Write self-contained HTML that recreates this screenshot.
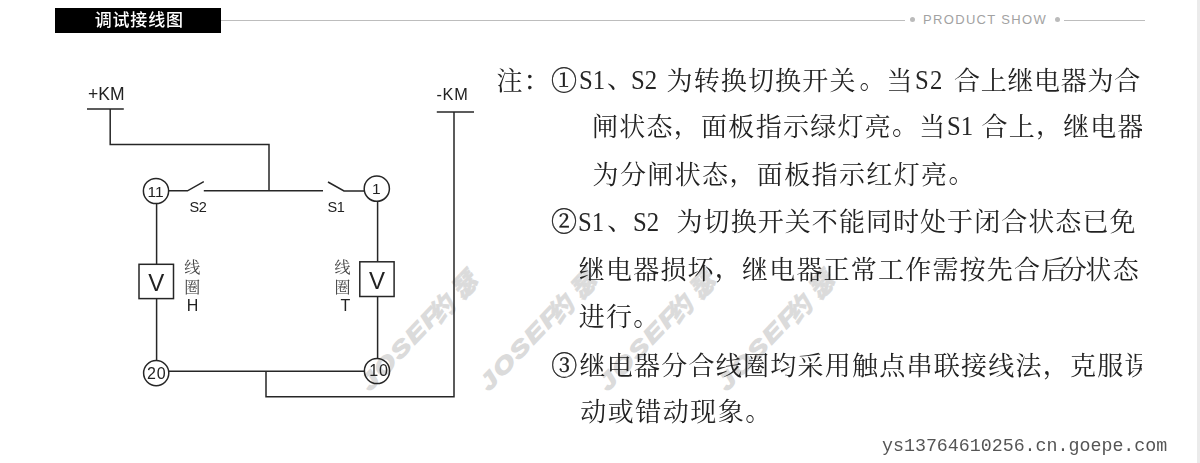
<!DOCTYPE html>
<html lang="zh-CN">
<head>
<meta charset="utf-8">
<title>调试接线图</title>
<style>
html,body{margin:0;padding:0;background:#fff;}
body{width:1200px;height:463px;position:relative;overflow:hidden;font-family:"Liberation Sans","Noto Sans CJK SC",sans-serif;}
#edge{position:absolute;left:1197px;top:0;width:3px;height:463px;background:#ebebeb;}
#hline{position:absolute;left:221px;top:20px;width:684px;height:1px;background:#bdbdbd;}
#hline2{position:absolute;left:1064px;top:20px;width:81px;height:1px;background:#bdbdbd;}
.dot{position:absolute;top:17.3px;width:5px;height:5px;border-radius:50%;background:#bbb;}
#title{position:absolute;left:55px;top:8px;width:166px;height:25px;background:#000;color:#fff;font-weight:500;font-size:17px;line-height:26px;letter-spacing:0.8px;text-indent:2.5px;text-align:center;will-change:transform;}
#ps{position:absolute;left:923px;top:12px;font-size:13px;line-height:16px;color:#a2a2a2;letter-spacing:1.33px;white-space:nowrap;}
#txt{position:absolute;left:0;top:0;width:1141.5px;height:463px;overflow:hidden;will-change:transform;}
.ln{position:absolute;white-space:nowrap;font-family:"Liberation Serif","Noto Serif CJK SC",serif;font-size:26px;line-height:30px;height:30px;letter-spacing:0;color:#222;font-weight:400;}
.la{display:inline-block;font-size:27.8px;letter-spacing:0;line-height:30px;white-space:pre;vertical-align:baseline;}
.la i{display:inline-block;font-style:normal;transform:scaleX(.89);transform-origin:0 50%;position:relative;top:-0.3px;color:#262626;}
.cn{-webkit-text-stroke:0.35px #222;}
.dn{position:relative;top:-1.5px;}
.wm{position:absolute;width:160px;height:24px;transform-origin:0 50%;transform:rotate(-46.5deg);color:#dbdbdb;font-weight:bold;font-style:italic;white-space:nowrap;}
.wm span{position:absolute;top:0;line-height:24px;height:24px;}
.wm .wl{left:0;font-size:22px;letter-spacing:1.85px;transform-origin:0 50%;transform:scaleX(1.3);-webkit-text-stroke:1.3px #dbdbdb;}
.wm .wc{font-size:25px;font-family:"Noto Sans CJK SC",sans-serif;font-weight:900;-webkit-text-stroke:0.5px #dbdbdb;}
#url{position:absolute;left:882px;top:436px;font-family:"Liberation Mono",monospace;font-size:18.3px;line-height:20px;color:#555;white-space:nowrap;}
svg{position:absolute;left:0;top:0;will-change:transform;}
svg text{font-family:"Liberation Sans","Noto Sans CJK SC",sans-serif;fill:#222;}
svg .sf text{font-family:"Liberation Serif","Noto Serif CJK SC",serif;fill:#444;}
</style>
</head>
<body>
<div id="edge"></div>
<div id="hline"></div><div id="hline2"></div>
<div class="dot" style="left:910px"></div><div class="dot" style="left:1055px"></div>
<div id="title">调试接线图</div>
<div id="ps">PRODUCT SHOW</div>

<div class="wm" style="left:364.5px;top:375.4px"><span class="wl">JOSEF</span><span class="wc" style="left:97px">约</span><span class="wc" style="left:129.5px">瑟</span></div>
<div class="wm" style="left:483.7px;top:375.4px"><span class="wl">JOSEF</span><span class="wc" style="left:97px">约</span><span class="wc" style="left:129.5px">瑟</span></div>
<div class="wm" style="left:602.9px;top:375.4px"><span class="wl">JOSEF</span><span class="wc" style="left:97px">约</span><span class="wc" style="left:129.5px">瑟</span></div>
<div class="wm" style="left:722.1px;top:375.4px"><span class="wl">JOSEF</span><span class="wc" style="left:97px">约</span><span class="wc" style="left:129.5px">瑟</span></div>

<svg width="1200" height="463" viewBox="0 0 1200 463">
<g fill="none" stroke="#262626" stroke-width="1.5">
<path d="M87 109H123.8"/>
<path d="M110.2 109V144.5H269V191"/>
<path d="M436.8 112H474"/>
<path d="M454 112V396.7H266V371.3"/>
<circle cx="156" cy="191" r="12.6"/>
<circle cx="376.8" cy="188.7" r="12.6"/>
<circle cx="156.2" cy="373.1" r="12.6"/>
<circle cx="377" cy="371" r="12.6"/>
<path d="M168.6 190.8H187.5L203.8 181.6"/>
<path d="M203.8 190.8H323"/>
<path d="M328 182L344 191H364.4"/>
<path d="M156.6 203.6V264.3"/>
<path d="M156.6 298.6V360"/>
<path d="M377.6 202V261.6"/>
<path d="M377.6 296.5V358.4"/>
<rect x="139" y="264.3" width="34.5" height="34.3"/>
<rect x="359.8" y="261.8" width="34.3" height="34.7"/>
<path d="M168.6 371.3H364.4"/>
</g>
<text x="88" y="100.4" font-size="17.5">+KM</text>
<text x="436.5" y="100.2" font-size="16.3" letter-spacing="0.7">-KM</text>
<text x="155.5" y="197" font-size="15.5" text-anchor="middle">11</text>
<text x="376.3" y="193.9" font-size="15.5" text-anchor="middle">1</text>
<text x="156.8" y="379.3" font-size="16" letter-spacing="0.9" text-anchor="middle">20</text>
<text x="379" y="376" font-size="16" letter-spacing="0.9" text-anchor="middle">10</text>
<text x="189.5" y="211.7" font-size="14.5" letter-spacing="-0.4">S2</text>
<text x="327.5" y="211.7" font-size="14.5" letter-spacing="-0.4">S1</text>
<text x="156.3" y="291.3" font-size="24" text-anchor="middle">V</text>
<text x="377" y="288.8" font-size="24" text-anchor="middle">V</text>
<g class="sf" font-size="16" text-anchor="middle">
<text x="192.3" y="273">线</text>
<text x="192.3" y="292.5">圈</text>
<text x="342.5" y="273">线</text>
<text x="342.5" y="292.5">圈</text>
</g>
<text x="192.5" y="310.5" font-size="16" text-anchor="middle">H</text>
<text x="345.5" y="310.5" font-size="16" text-anchor="middle">T</text>
</svg>

<div id="txt">
<div class="ln" style="left:496.5px;top:65.5px"><span style="letter-spacing:1.20px">注<span class="cn">：</span><span class="cn">①</span></span><span class="la" style="width:25.5px;margin-left:0.4px"><i>S1</i></span><span style="letter-spacing:-2.00px;margin-left:3px"><span class="dn">、</span></span><span class="la" style="width:34.5px"><i>S2</i> </span><span style="letter-spacing:1.15px;margin-left:1px">为转换切换开关</span><span style="letter-spacing:1.00px;margin-left:3px"><span class="dn">。</span></span><span style="letter-spacing:2.50px">当</span><span class="la" style="width:46px;margin-left:-7px"> <i style="letter-spacing:1.5px">S2</i> </span><span style="letter-spacing:0.67px">合上继电器为合</span></div>
<div class="ln" style="left:592px;top:111.6px"><span style="letter-spacing:1.27px">闸状态<span class="dn">，</span>面板指示绿灯亮<span class="dn">。</span>当</span><span class="la" style="width:35px"><i>S1</i> </span><span style="letter-spacing:1.20px">合上<span class="dn">，</span>继电器</span></div>
<div class="ln" style="left:592.5px;top:160.5px"><span style="letter-spacing:1.38px">为分闸状态<span class="dn">，</span>面板指示红灯亮<span class="dn">。</span></span></div>
<div class="ln" style="left:551px;top:207.2px"><span style="letter-spacing:0.50px"><span class="cn">②</span></span><span class="la" style="width:26.5px"><i>S1</i></span><span style="letter-spacing:-0.70px;margin-left:3.2px"><span class="dn">、</span></span><span class="la" style="width:44px"><i>S2</i> </span><span style="letter-spacing:1.06px">为切换开关不能同时处于闭合状态已免</span></div>
<div class="ln" style="left:578.8px;top:255.5px"><span style="letter-spacing:1.20px">继电器损坏<span class="dn">，</span>继电器正常工作需按先合</span><span style="letter-spacing:-6.50px">后</span><span style="letter-spacing:-1.50px">分</span><span style="letter-spacing:1.50px">状态</span></div>
<div class="ln" style="left:578.8px;top:303px"><span style="letter-spacing:1.20px">进行<span class="dn">。</span></span></div>
<div class="ln" style="left:551.2px;top:352px"><span style="letter-spacing:2.30px"><span class="cn">③</span></span><span style="letter-spacing:1.25px">继电器分合线圈均采用触点串联接线法<span class="dn">，</span>克服误</span></div>
<div class="ln" style="left:580.2px;top:398.4px"><span style="letter-spacing:1.50px">动或错动现象<span class="dn">。</span></span></div>
</div>

<div id="url">ys13764610256.cn.goepe.com</div>
</body>
</html>
